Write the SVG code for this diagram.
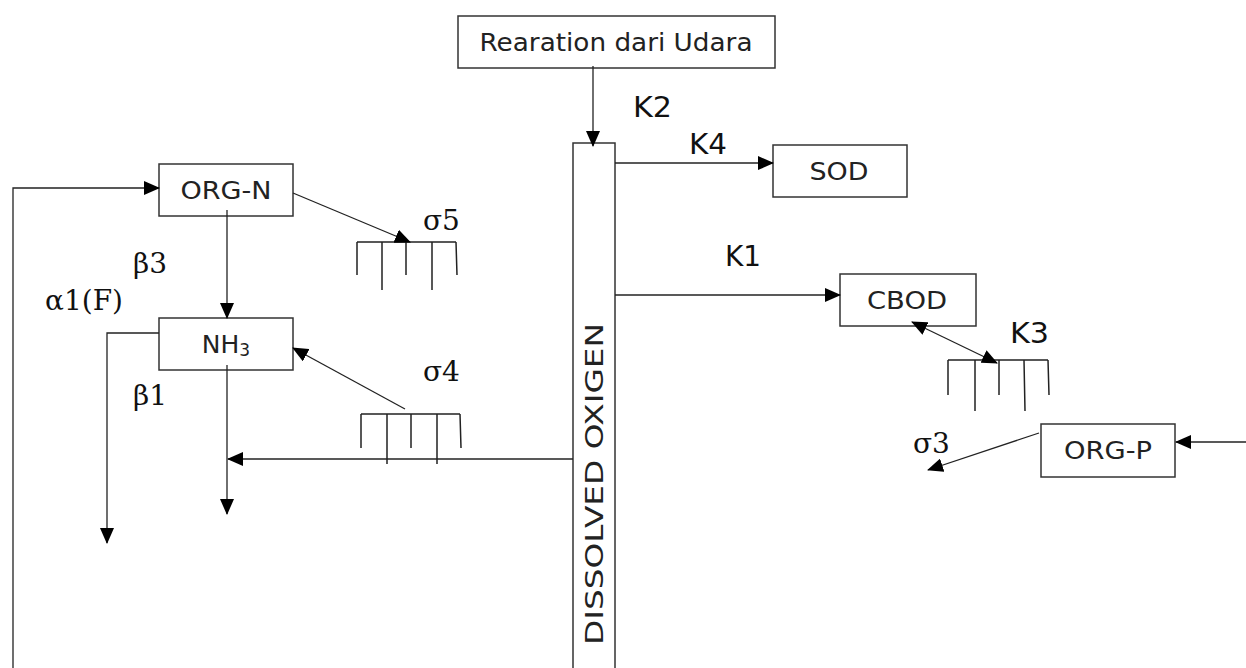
<svg xmlns="http://www.w3.org/2000/svg" width="1246" height="668" viewBox="0 0 1246 668">
<style>
.box{fill:#fff;stroke:#333;stroke-width:1.5}
.lbl{font-family:"DejaVu Sans",sans-serif;font-size:25px;fill:#222;text-anchor:middle}
.k{font-family:"DejaVu Sans",sans-serif;font-size:28px;fill:#111}
.g{font-family:"DejaVu Serif",serif;font-size:28px;fill:#111}
.ln{fill:none;stroke:#222;stroke-width:1.3}
.comb{fill:none;stroke:#222;stroke-width:1.5}
</style>
<defs>
<marker id="ah" markerUnits="userSpaceOnUse" markerWidth="16" markerHeight="14" refX="15" refY="7" orient="auto-start-reverse" viewBox="0 0 16 14">
<path d="M0,0 L16,7 L0,14 Z" fill="#000"/>
</marker>
</defs>
<rect width="1246" height="668" fill="#fff"/>

<g id="rearation">
<rect class="box" x="458" y="16" width="317" height="52"/>
<text class="lbl" x="616" y="51" style="font-size:25px" textLength="273" lengthAdjust="spacingAndGlyphs">Rearation dari Udara</text>
</g>
<g id="do">
<rect class="box" x="573" y="143" width="42" height="535"/>
<text class="lbl" transform="translate(603,484) rotate(-90)" style="font-size:25px" textLength="322" lengthAdjust="spacingAndGlyphs">DISSOLVED OXIGEN</text>
</g>
<g id="sod">
<rect class="box" x="773" y="145" width="134" height="52"/>
<text class="lbl" x="839" y="180" textLength="59" lengthAdjust="spacingAndGlyphs">SOD</text>
</g>
<g id="cbod">
<rect class="box" x="840" y="274" width="136" height="52"/>
<text class="lbl" x="907" y="309" textLength="80" lengthAdjust="spacingAndGlyphs">CBOD</text>
</g>
<g id="orgp">
<rect class="box" x="1041" y="424" width="134" height="53"/>
<text class="lbl" x="1108" y="459" textLength="88" lengthAdjust="spacingAndGlyphs">ORG-P</text>
</g>
<g id="orgn">
<rect class="box" x="159" y="164" width="134" height="52"/>
<text class="lbl" x="226" y="199" textLength="91" lengthAdjust="spacingAndGlyphs">ORG-N</text>
</g>
<g id="nh3">
<rect class="box" x="159" y="318" width="134" height="52"/>
<text class="lbl" x="226" y="353">NH<tspan style="font-size:17px" dy="3">3</tspan></text>
</g>

<g id="sinks">
<path class="comb" d="M357,242 H456 M357,242 V275 M382,242 V290 M406,242 V275 M432,242 V290 M456,242 L457,275"/>
<path class="comb" d="M361,414 H460 M361,414 V448 M387,414 V464 M411,414 V448 M437,414 V464 M460,414 L461,448"/>
<path class="comb" d="M948,360 H1048 M948,360 V395 M975,360 V411 M999,360 V395 M1024,360 L1025,411 M1048,360 L1049,395"/>
</g>

<g id="connectors">
<line class="ln" x1="593" y1="66" x2="593" y2="146" marker-end="url(#ah)"/>
<line class="ln" x1="615" y1="163" x2="773" y2="163" marker-end="url(#ah)"/>
<line class="ln" x1="615" y1="295" x2="840" y2="295" marker-end="url(#ah)"/>
<line class="ln" x1="573" y1="459" x2="228" y2="459" marker-end="url(#ah)"/>
<line class="ln" x1="227" y1="210" x2="227" y2="318" marker-end="url(#ah)"/>
<line class="ln" x1="227" y1="365" x2="227" y2="514" marker-end="url(#ah)"/>
<polyline class="ln" points="159,333 107,333 107,543" marker-end="url(#ah)"/>
<polyline class="ln" points="13,668 13,188 159,188" marker-end="url(#ah)"/>
<line class="ln" x1="293" y1="193" x2="410" y2="242" marker-end="url(#ah)"/>
<line class="ln" x1="405" y1="409" x2="293" y2="348" marker-end="url(#ah)"/>
<line class="ln" x1="912" y1="322" x2="997" y2="363" marker-start="url(#ah)" marker-end="url(#ah)"/>
<line class="ln" x1="1039" y1="433" x2="928" y2="470" marker-end="url(#ah)"/>
<line class="ln" x1="1246" y1="442" x2="1176" y2="442" marker-end="url(#ah)"/>
</g>

<g id="labels">
<text class="k" x="633" y="117" textLength="39" lengthAdjust="spacingAndGlyphs">K2</text>
<text class="k" x="689" y="154" textLength="38" lengthAdjust="spacingAndGlyphs">K4</text>
<text class="k" x="725" y="266" textLength="36" lengthAdjust="spacingAndGlyphs">K1</text>
<text class="k" x="1010" y="343" textLength="39" lengthAdjust="spacingAndGlyphs">K3</text>
<text class="g" x="423" y="230">σ5</text>
<text class="g" x="423" y="381">σ4</text>
<text class="g" x="913" y="453">σ3</text>
<text class="g" x="133" y="273">β3</text>
<text class="g" x="133" y="405">β1</text>
<text class="g" x="45" y="310">α1(F)</text>
</g>
</svg>
